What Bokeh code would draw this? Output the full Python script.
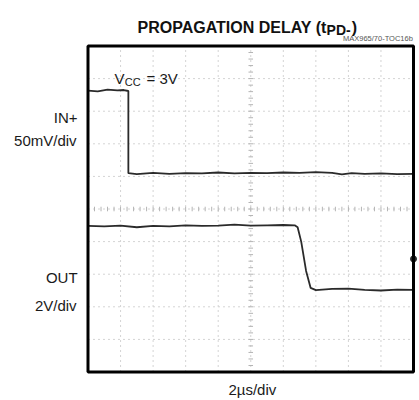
from bokeh.plotting import figure
from bokeh.models import Range1d, Label
from bokeh.embed import file_html
from bokeh.resources import INLINE
import numpy as np

# ---- data (divisions) ----
in_x = [0.0, 0.3, 0.6, 0.9, 1.1, 1.24, 1.24, 1.5, 2.0, 2.5, 3.0, 3.5, 4.0, 4.5, 5.0,
        5.5, 6.0, 6.5, 7.0, 7.5, 7.8, 8.1, 8.5, 9.0, 9.5, 10.0]
in_y = [8.63, 8.61, 8.66, 8.64, 8.65, 8.62, 6.10, 6.07, 6.11, 6.08, 6.10, 6.09, 6.12, 6.09,
        6.11, 6.10, 6.12, 6.11, 6.13, 6.11, 6.06, 6.10, 6.08, 6.09, 6.07, 6.08]
out_x = [0.0, 0.5, 1.0, 1.5, 2.0, 2.5, 3.0, 3.5, 4.0, 4.5, 5.0, 5.5, 6.0, 6.35, 6.44,
         6.55, 6.7, 6.84, 7.0, 7.5, 8.0, 8.5, 9.0, 9.5, 10.0]
out_y = [4.48, 4.47, 4.49, 4.44, 4.48, 4.47, 4.50, 4.48, 4.49, 4.52, 4.49, 4.50, 4.51, 4.50, 4.44,
         4.0, 3.1, 2.58, 2.51, 2.55, 2.56, 2.52, 2.50, 2.53, 2.52]
marker_x = [10.0]
marker_y = [3.47]
divisions = list(range(1, 10))

title_main = "PROPAGATION DELAY (t"
title_sub = "PD-"
title_end = ")"
code_text = "MAX965/70-TOC16b"
vcc_text = ["V", "CC", "= 3V"]
ch1_labels = ["IN+", "50mV/div"]
ch2_labels = ["OUT", "2V/div"]
x_label = "2\u00b5s/div"

FONT = "Liberation Sans"

p = figure(width=419, height=400, output_backend="svg", toolbar_location=None,
           x_range=Range1d(-2.688, 10.184), y_range=Range1d(-0.874, 11.396),
           min_border=0)
p.axis.visible = False
p.grid.visible = False
p.outline_line_color = None
p.background_fill_color = "white"
p.border_fill_color = "white"

# graticule
p.segment(x0=divisions, y0=0, x1=divisions, y1=10, line_color="#d4d4d4", line_width=1, line_dash="2 3")
p.segment(x0=0, y0=divisions, x1=10, y1=divisions, line_color="#d4d4d4", line_width=1, line_dash="2 3")
mt = np.arange(0.2, 10, 0.2)
p.segment(x0=mt, y0=4.93, x1=mt, y1=5.07, line_color="#b4b4b4", line_width=1)
p.segment(x0=4.93, y0=mt, x1=5.07, y1=mt, line_color="#b4b4b4", line_width=1)

# traces
p.line(in_x, in_y, line_color="#2a2a2a", line_width=1.8)
p.line(out_x, out_y, line_color="#2a2a2a", line_width=1.8)
p.scatter(marker_x, marker_y, size=6, color="#2a2a2a")

# scope frame
p.quad(left=0, right=10, bottom=0, top=10, fill_color=None, line_color="black", line_width=3)

def lab(x, y, t, size, align="left", base="alphabetic", bold=False, color="#1a1a1a", xo=0, yo=0):
    p.add_layout(Label(x=x, y=y, text=t, text_font=FONT, text_font_size=f"{size}px",
                       text_align=align, text_baseline=base, text_color=color,
                       text_font_style="bold" if bold else "normal",
                       x_offset=xo, y_offset=yo))

# title
lab(7.33, 10.57, title_main, 16, align="right", bold=True, color="#111111")
lab(7.33, 10.57, title_sub, 14, align="left", bold=True, color="#111111", yo=-3)
lab(8.10, 10.57, title_end, 16, align="left", bold=True, color="#111111")
lab(9.98, 10.22, code_text, 7.5, align="right", color="#555555")

# Vcc
lab(0.815, 9.0, vcc_text[0], 15)
lab(1.13, 9.0, vcc_text[1], 11, yo=-3)
lab(1.80, 9.0, vcc_text[2], 15)

# channel labels
lab(-0.32, 7.81, ch1_labels[0], 15, align="right", base="middle")
lab(-0.35, 7.10, ch1_labels[1], 15, align="right", base="middle")
lab(-0.32, 2.90, ch2_labels[0], 15, align="right", base="middle")
lab(-0.35, 2.04, ch2_labels[1], 15, align="right", base="middle")
lab(5.05, -0.55, x_label, 15, align="center", base="middle")

open("out.html", "w").write(file_html(p, INLINE))
